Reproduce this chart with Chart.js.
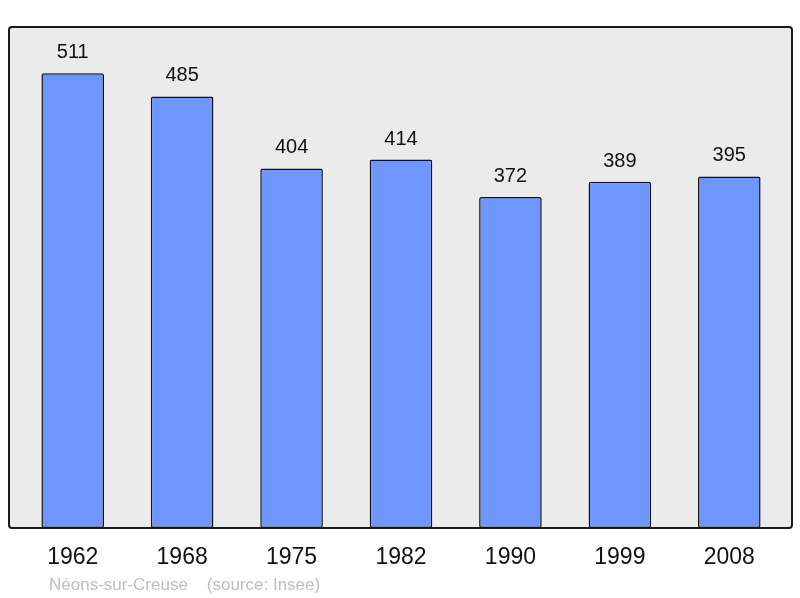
<!DOCTYPE html>
<html>
<head>
<meta charset="utf-8">
<script src="https://cdn.jsdelivr.net/npm/chart.js@4/dist/chart.umd.min.js"></script>
<style>
  body { margin: 0; background: #fff; }
  canvas { display: block; }
</style>
</head>
<body>
<canvas id="chart" width="800" height="598"></canvas>
<script>
const years = ["1962", "1968", "1975", "1982", "1990", "1999", "2008"];
const population = [511, 485, 404, 414, 372, 389, 395];
const yMax = 563;
const footerText = "Néons-sur-Creuse    (source: Insee)";

// grey frame behind the bars
const framePlugin = {
    id: "frame",
    beforeDraw(chart) {
        const ctx = chart.ctx;
        const a = chart.chartArea;
        const x0 = a.left - 9, x1 = a.right + 8;
        const y0 = a.top, y1 = a.bottom;
        ctx.save();
        ctx.beginPath();
        ctx.roundRect(x0, y0, x1 - x0, y1 - y0, 3);
        ctx.fillStyle = "#ebebeb";
        ctx.fill();
        ctx.lineWidth = 2;
        ctx.strokeStyle = "#1a1a1a";
        ctx.stroke();
        ctx.restore();
    }
};

// value labels above bars + footer text
const labelsPlugin = {
    id: "labels",
    afterDatasetsDraw(chart) {
        const ctx = chart.ctx;
        ctx.save();
        ctx.font = "20px 'Liberation Sans', Arial, sans-serif";
        ctx.fillStyle = "#111";
        ctx.textAlign = "center";
        ctx.textBaseline = "alphabetic";
        chart.getDatasetMeta(0).data.forEach((bar, i) => {
            ctx.fillText(String(population[i]), bar.x, bar.y - 15);
        });
        ctx.font = "17px 'Liberation Sans', Arial, sans-serif";
        ctx.fillStyle = "#bdbdbd";
        ctx.textAlign = "left";
        ctx.fillText(footerText, 49, 590);
        ctx.restore();
    }
};

new Chart(document.getElementById("chart"), {
    type: "bar",
    data: {
        labels: years,
        datasets: [{
            data: population,
            backgroundColor: "#6f96ff",
            borderColor: "#111",
            borderWidth: 1.5,
            borderSkipped: false,
            borderRadius: 2,
            barPercentage: 0.572,
            categoryPercentage: 1
        }]
    },
    options: {
        responsive: false,
        animation: false,
        layout: { padding: { left: 18, right: 16, top: 27, bottom: 30 } },
        plugins: { legend: { display: false }, tooltip: { enabled: false } },
        scales: {
            x: {
                grid: { display: false },
                border: { display: false },
                afterFit: axis => { axis.height = 40; },
                ticks: {
                    color: "#111",
                    padding: 8,
                    font: { size: 23, family: "'Liberation Sans', Arial, sans-serif" }
                }
            },
            y: {
                display: false,
                min: 0,
                max: yMax
            }
        }
    },
    plugins: [framePlugin, labelsPlugin]
});
</script>
</body>
</html>
